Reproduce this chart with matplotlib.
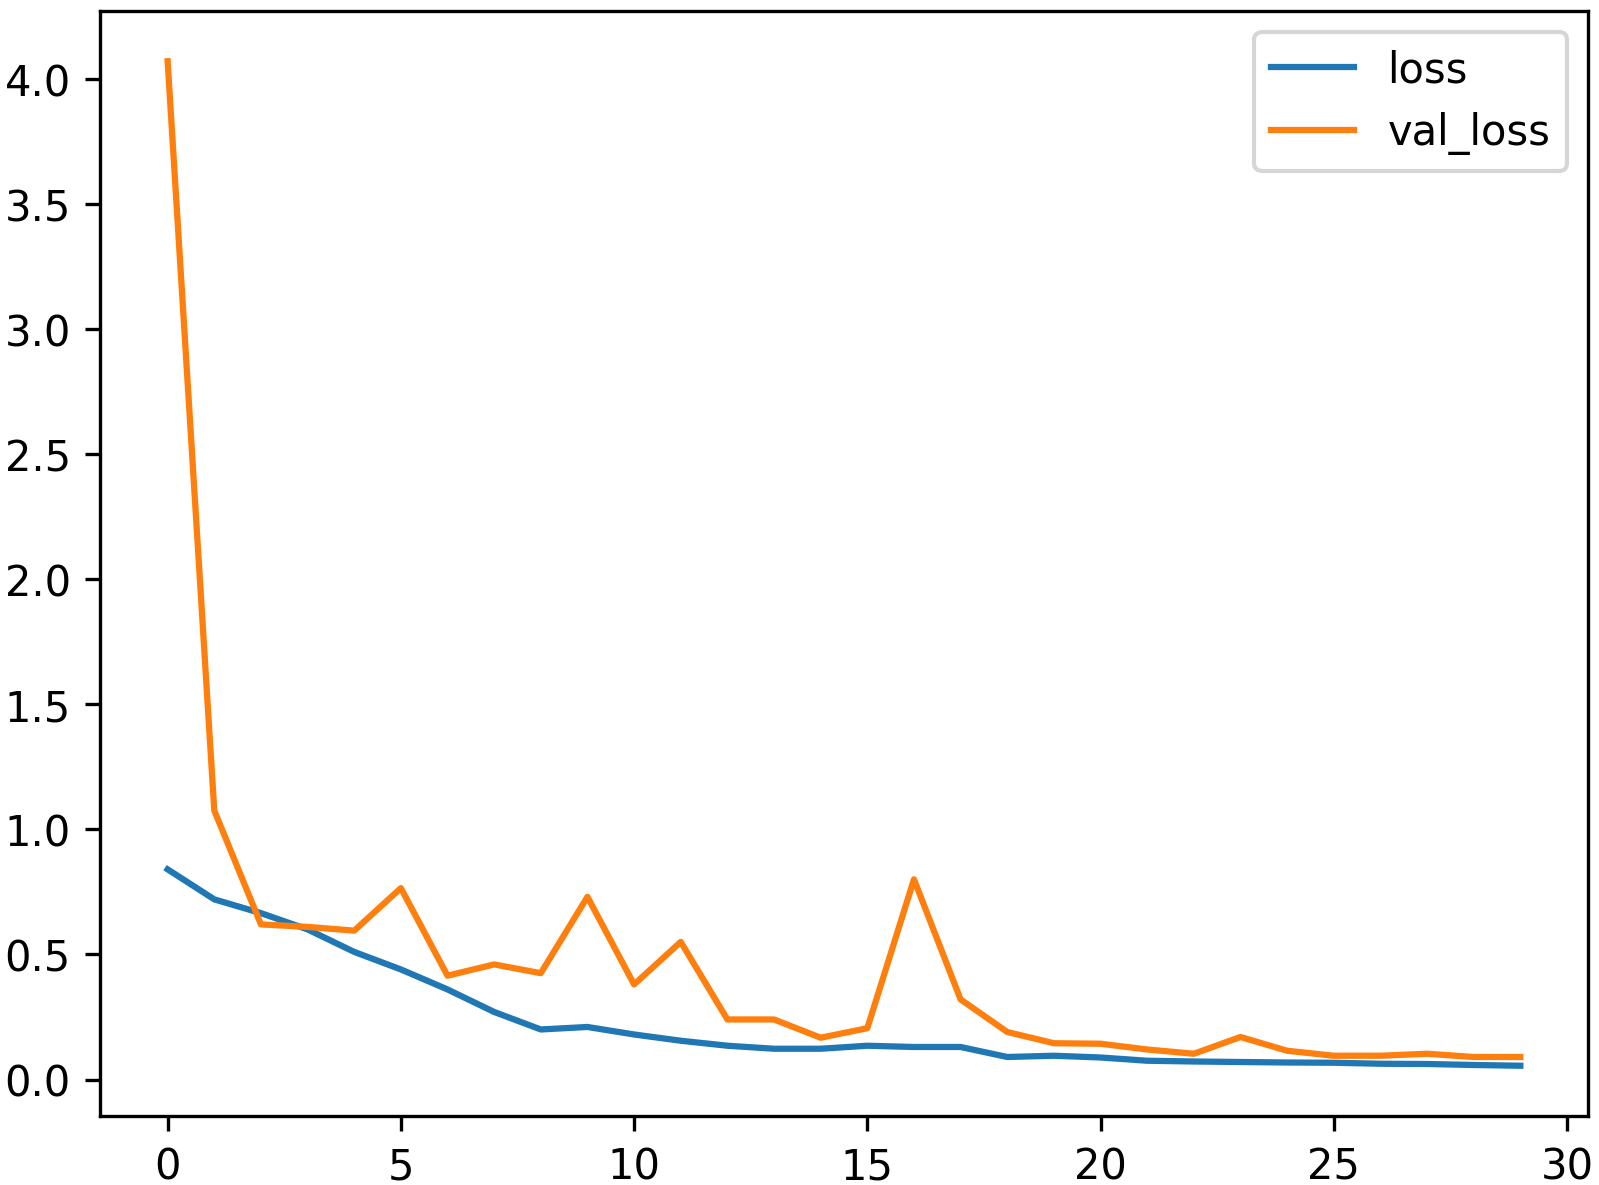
import matplotlib
matplotlib.use("Agg")
import matplotlib.pyplot as plt

# training history
epochs = list(range(30))
loss = [0.84, 0.72, 0.665, 0.60, 0.51, 0.44, 0.36, 0.27, 0.20, 0.21,
        0.18, 0.155, 0.135, 0.123, 0.123, 0.135, 0.13, 0.13, 0.09, 0.095,
        0.088, 0.075, 0.072, 0.07, 0.068, 0.067, 0.063, 0.062, 0.058, 0.055]
val_loss = [4.07, 1.075, 0.62, 0.61, 0.595, 0.765, 0.415, 0.46, 0.425, 0.73,
            0.38, 0.55, 0.24, 0.24, 0.167, 0.205, 0.80, 0.32, 0.19, 0.145,
            0.143, 0.12, 0.103, 0.17, 0.115, 0.095, 0.095, 0.103, 0.09, 0.09]

fig = plt.figure(figsize=(5.3333, 3.9533), dpi=300)
ax = fig.add_axes([0.0625, 0.0582, 0.93, 0.9317])
ax.plot(epochs, loss, label="loss")
ax.plot(epochs, val_loss, label="val_loss")
ax.legend()
fig.savefig("out.png", dpi=300)
